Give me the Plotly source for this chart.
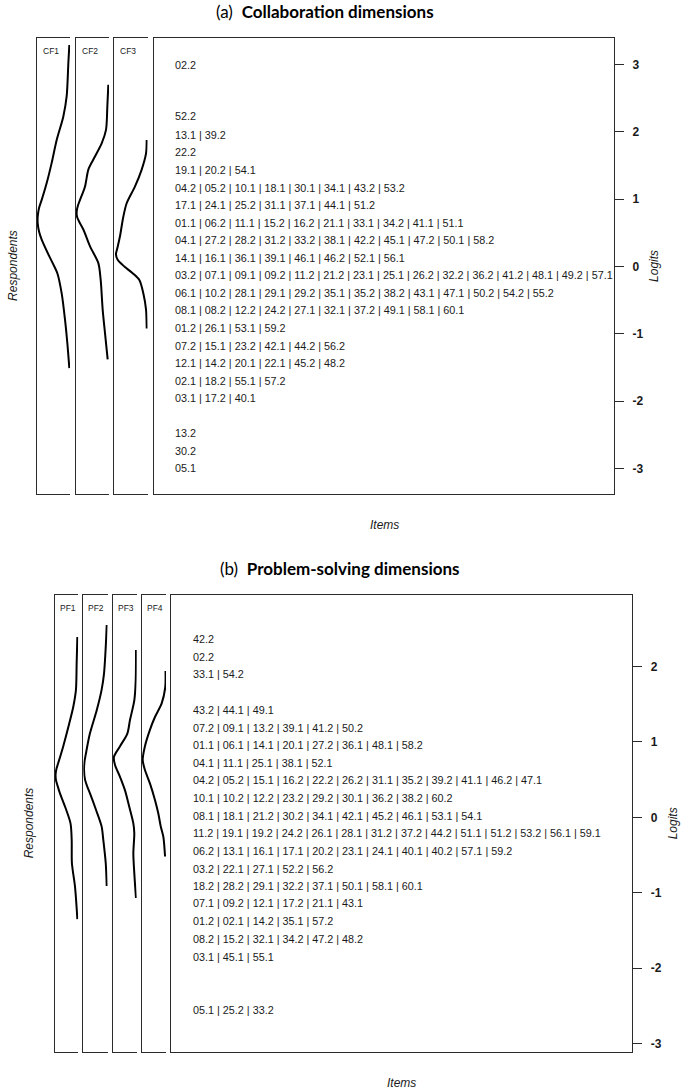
import plotly.graph_objects as go

W, H = 685, 1092

# ---------------- data: panel (a) Collaboration ----------------
a_row_logits = [3.0, 2.23, 1.96, 1.70, 1.44, 1.17, 0.91, 0.65, 0.39, 0.13,
                -0.13, -0.39, -0.65, -0.91, -1.18, -1.44, -1.70, -1.96,
                -2.48, -2.74, -3.0]
a_row_items = [
    ["02.2"],
    ["52.2"],
    ["13.1", "39.2"],
    ["22.2"],
    ["19.1", "20.2", "54.1"],
    ["04.2", "05.2", "10.1", "18.1", "30.1", "34.1", "43.2", "53.2"],
    ["17.1", "24.1", "25.2", "31.1", "37.1", "44.1", "51.2"],
    ["01.1", "06.2", "11.1", "15.2", "16.2", "21.1", "33.1", "34.2", "41.1", "51.1"],
    ["04.1", "27.2", "28.2", "31.2", "33.2", "38.1", "42.2", "45.1", "47.2", "50.1", "58.2"],
    ["14.1", "16.1", "36.1", "39.1", "46.1", "46.2", "52.1", "56.1"],
    ["03.2", "07.1", "09.1", "09.2", "11.2", "21.2", "23.1", "25.1", "26.2", "32.2",
     "36.2", "41.2", "48.1", "49.2", "57.1"],
    ["06.1", "10.2", "28.1", "29.1", "29.2", "35.1", "35.2", "38.2", "43.1", "47.1",
     "50.2", "54.2", "55.2"],
    ["08.1", "08.2", "12.2", "24.2", "27.1", "32.1", "37.2", "49.1", "58.1", "60.1"],
    ["01.2", "26.1", "53.1", "59.2"],
    ["07.2", "15.1", "23.2", "42.1", "44.2", "56.2"],
    ["12.1", "14.2", "20.1", "22.1", "45.2", "48.2"],
    ["02.1", "18.2", "55.1", "57.2"],
    ["03.1", "17.2", "40.1"],
    ["13.2"],
    ["30.2"],
    ["05.1"],
]
a_dims = ["CF1", "CF2", "CF3"]
cf1_logit = [3.29, 3.02, 2.53, 2.23, 1.88, 1.54, 1.24, 0.99, 0.87, 0.74, 0.64, 0.52,
             0.40, 0.15, 0.05, -0.10, -0.40, -0.79, -1.14, -1.51]
cf1_dens = [0.02, 0.05, 0.10, 0.20, 0.40, 0.55, 0.70, 0.85, 0.93, 0.97, 0.97, 0.93,
            0.85, 0.62, 0.52, 0.38, 0.25, 0.15, 0.08, 0.02]
cf2_logit = [2.70, 2.38, 2.03, 1.83, 1.59, 1.44, 1.19, 0.99, 0.91, 0.82, 0.74, 0.65,
             0.55, 0.30, 0.05, -0.20, -0.64, -0.99, -1.38]
cf2_dens = [0.02, 0.05, 0.09, 0.22, 0.47, 0.62, 0.72, 0.87, 0.93, 0.97, 0.96, 0.88,
            0.77, 0.57, 0.32, 0.25, 0.19, 0.12, 0.04]
cf3_logit = [1.88, 1.68, 1.44, 1.19, 0.94, 0.74, 0.45, 0.27, 0.18, 0.10, 0.0, -0.10,
             -0.20, -0.40, -0.64, -0.92]
cf3_dens = [0.03, 0.05, 0.18, 0.38, 0.63, 0.73, 0.83, 0.91, 0.95, 0.90, 0.70, 0.45,
            0.25, 0.13, 0.05, 0.03]
a_logit_ticks = [3, 2, 1, 0, -1, -2, -3]
a_logit_ticktext = ["3", "2", "1", "0", "-1", "-2", "-3"]

# ---------------- data: panel (b) Problem-solving ----------------
b_row_logits = [2.36, 2.13, 1.90, 1.42, 1.19, 0.96, 0.72, 0.49, 0.26, 0.02,
                -0.21, -0.45, -0.68, -0.91, -1.14, -1.38, -1.61, -1.85, -2.55]
b_row_items = [
    ["42.2"],
    ["02.2"],
    ["33.1", "54.2"],
    ["43.2", "44.1", "49.1"],
    ["07.2", "09.1", "13.2", "39.1", "41.2", "50.2"],
    ["01.1", "06.1", "14.1", "20.1", "27.2", "36.1", "48.1", "58.2"],
    ["04.1", "11.1", "25.1", "38.1", "52.1"],
    ["04.2", "05.2", "15.1", "16.2", "22.2", "26.2", "31.1", "35.2", "39.2", "41.1",
     "46.2", "47.1"],
    ["10.1", "10.2", "12.2", "23.2", "29.2", "30.1", "36.2", "38.2", "60.2"],
    ["08.1", "18.1", "21.2", "30.2", "34.1", "42.1", "45.2", "46.1", "53.1", "54.1"],
    ["11.2", "19.1", "19.2", "24.2", "26.1", "28.1", "31.2", "37.2", "44.2", "51.1",
     "51.2", "53.2", "56.1", "59.1"],
    ["06.2", "13.1", "16.1", "17.1", "20.2", "23.1", "24.1", "40.1", "40.2", "57.1",
     "59.2"],
    ["03.2", "22.1", "27.1", "52.2", "56.2"],
    ["18.2", "28.2", "29.1", "32.2", "37.1", "50.1", "58.1", "60.1"],
    ["07.1", "09.2", "12.1", "17.2", "21.1", "43.1"],
    ["01.2", "02.1", "14.2", "35.1", "57.2"],
    ["08.2", "15.2", "32.1", "34.2", "47.2", "48.2"],
    ["03.1", "45.1", "55.1"],
    ["05.1", "25.2", "33.2"],
]
b_dims = ["PF1", "PF2", "PF3", "PF4"]
pf1_logit = [2.39, 2.04, 1.69, 1.47, 1.20, 0.94, 0.72, 0.65, 0.58, 0.50, 0.42, 0.32,
             0.14, -0.08, -0.30, -0.61, -0.92, -1.35]
pf1_dens = [0.04, 0.07, 0.10, 0.21, 0.42, 0.64, 0.85, 0.92, 0.96, 0.95, 0.88, 0.78,
            0.56, 0.33, 0.28, 0.27, 0.14, 0.04]
pf2_logit = [2.55, 2.26, 1.91, 1.69, 1.42, 1.11, 0.85, 0.74, 0.63, 0.50, 0.41, 0.32,
             0.10, -0.12, -0.30, -0.61, -0.91]
pf2_dens = [0.04, 0.08, 0.15, 0.25, 0.45, 0.73, 0.89, 0.95, 0.97, 0.93, 0.84, 0.73,
            0.48, 0.25, 0.18, 0.08, 0.04]
pf3_logit = [2.22, 1.82, 1.55, 1.29, 1.11, 0.94, 0.80, 0.69, 0.54, 0.36, 0.14,
             -0.08, -0.21, -0.48, -0.74, -1.07]
pf3_dens = [0.03, 0.04, 0.10, 0.28, 0.39, 0.70, 0.95, 0.90, 0.70, 0.49, 0.31,
            0.14, 0.10, 0.14, 0.10, 0.03]
pf4_logit = [1.94, 1.73, 1.51, 1.33, 1.16, 0.94, 0.76, 0.63, 0.45, 0.23, 0.05,
             -0.12, -0.26, -0.52]
pf4_dens = [0.02, 0.03, 0.18, 0.46, 0.67, 0.88, 0.97, 0.88, 0.67, 0.46, 0.32,
            0.22, 0.11, 0.04]
b_logit_ticks = [2, 1, 0, -1, -2, -3]
b_logit_ticktext = ["2", "1", "0", "-1", "-2", "-3"]

a_curves = [(cf1_logit, cf1_dens), (cf2_logit, cf2_dens), (cf3_logit, cf3_dens)]
b_curves = [(pf1_logit, pf1_dens), (pf2_logit, pf2_dens), (pf3_logit, pf3_dens),
            (pf4_logit, pf4_dens)]

# ---------------- layout geometry (pixels) ----------------
def px(x):
    return x / W

def py(y):
    return 1 - y / H

LINE = "#2b2b2b"
TXT = "#1a1a1a"
FONT = "Liberation Sans, Arial, sans-serif"

panels = [
    dict(title_a="(a)", title_b="Collaboration dimensions", title_x=214, title_y=12,
         dims=a_dims, curves=a_curves,
         small=[(36.7, 70.0), (75.7, 109.0), (114.3, 147.7)],
         main=(154.0, 614.0), top=37.8, bottom=494.0, zero=266.5, ppl=67.3,
         rows=a_row_items, row_logits=a_row_logits, text_x=173.0,
         ticks=a_logit_ticks, ticktext=a_logit_ticktext,
         resp_x=13, logit_x=654, items_y=525),
    dict(title_a="(b)", title_b="Problem-solving dimensions", title_x=218, title_y=568,
         dims=b_dims, curves=b_curves,
         small=[(54.7, 78.3), (83.3, 107.7), (112.7, 136.7), (142.0, 166.0)],
         main=(171.0, 632.3), top=595.0, bottom=1051.7, zero=817.3, ppl=75.4,
         rows=b_row_items, row_logits=b_row_logits, text_x=191.0,
         ticks=b_logit_ticks, ticktext=b_logit_ticktext,
         resp_x=29, logit_x=673, items_y=1083),
]

fig = go.Figure()
layout = dict(width=W, height=H, margin=dict(l=0, r=0, t=0, b=0),
              paper_bgcolor="white", plot_bgcolor="white", showlegend=False)
annotations = []
ax_i = 0
for p in panels:
    y_top = (p["zero"] - p["top"]) / p["ppl"]
    y_bot = (p["zero"] - p["bottom"]) / p["ppl"]
    ydom = [py(p["bottom"]), py(p["top"])]
    # small density panels
    for (x0, x1), name, (lg, dn) in zip(p["small"], p["dims"], p["curves"]):
        ax_i += 1
        xa = "xaxis" if ax_i == 1 else f"xaxis{ax_i}"
        ya = "yaxis" if ax_i == 1 else f"yaxis{ax_i}"
        xr = "x" if ax_i == 1 else f"x{ax_i}"
        yr = "y" if ax_i == 1 else f"y{ax_i}"
        layout[xa] = dict(domain=[px(x0), px(x1)], range=[1.0, 0.0], anchor=yr,
                          showline=True, mirror=True, linecolor=LINE, linewidth=1.3,
                          showgrid=False, zeroline=False, showticklabels=False,
                          ticks="", fixedrange=True)
        layout[ya] = dict(domain=ydom, range=[y_bot, y_top], anchor=xr,
                          showline=True, mirror=False, linecolor=LINE, linewidth=1.3,
                          showgrid=False, zeroline=False, showticklabels=False,
                          ticks="", fixedrange=True)
        fig.add_trace(go.Scatter(x=dn, y=lg, xaxis=xr, yaxis=yr, mode="lines",
                                 line=dict(color="black", width=2, shape="spline",
                                           smoothing=0.8),
                                 hoverinfo="skip"))
        annotations.append(dict(text=name, xref=f"{xr} domain", yref="paper",
                                x=0.12, y=py(p["top"] + 6), xanchor="left",
                                yanchor="top", showarrow=False,
                                font=dict(family=FONT, size=8.5, color=TXT)))
    # main item panel
    ax_i += 1
    xa, ya = f"xaxis{ax_i}", f"yaxis{ax_i}"
    xr, yr = f"x{ax_i}", f"y{ax_i}"
    layout[xa] = dict(domain=[px(p["main"][0]), px(p["main"][1])], range=[0, 1],
                      anchor=yr, showline=True, mirror=True, linecolor=LINE,
                      linewidth=1.3, showgrid=False, zeroline=False,
                      showticklabels=False, ticks="", fixedrange=True)
    layout[ya] = dict(domain=ydom, range=[y_bot, y_top], anchor=xr, side="right",
                      showline=True, mirror=True, linecolor=LINE, linewidth=1.3,
                      showgrid=False, zeroline=False, ticks="outside", ticklen=9,
                      tickwidth=1.3, tickcolor=LINE, tickvals=p["ticks"],
                      ticktext=p["ticktext"], ticklabelstandoff=6,
                      tickfont=dict(family=FONT, size=12, color=TXT, weight="bold"),
                      fixedrange=True)
    labels = [" | ".join(r) for r in p["rows"]]
    fig.add_trace(go.Scatter(x=[0] * len(labels), y=p["row_logits"], xaxis=xr, yaxis=yr,
                             mode="markers", marker=dict(size=1, opacity=0),
                             hoverinfo="skip"))
    for lab, lv in zip(labels, p["row_logits"]):
        annotations.append(dict(text=lab, xref="paper", yref=yr, x=px(p["text_x"]),
                                y=lv, xanchor="left", yanchor="middle",
                                showarrow=False,
                                font=dict(family=FONT, size=10.8, color=TXT)))
    # titles and axis labels
    annotations.append(dict(
        text=f"{p['title_a']}  <b>{p['title_b']}</b>", xref="paper", yref="paper",
        x=px(p["title_x"]), y=py(p["title_y"]), xanchor="left", yanchor="middle",
        showarrow=False, font=dict(family="Lato, Carlito, sans-serif", size=17,
                                   color="black")))
    mid = (p["top"] + p["bottom"]) / 2
    annotations.append(dict(text="Respondents", xref="paper", yref="paper",
                            x=px(p["resp_x"]), y=py(mid), textangle=-90,
                            xanchor="center", yanchor="middle", showarrow=False,
                            font=dict(family=FONT, size=12, color=TXT, style="italic")))
    annotations.append(dict(text="Logits", xref="paper", yref="paper",
                            x=px(p["logit_x"]), y=py(mid), textangle=-90,
                            xanchor="center", yanchor="middle", showarrow=False,
                            font=dict(family=FONT, size=12, color=TXT, style="italic")))
    annotations.append(dict(text="Items", xref="paper", yref="paper",
                            x=px((p["main"][0] + p["main"][1]) / 2), y=py(p["items_y"]),
                            xanchor="center", yanchor="middle", showarrow=False,
                            font=dict(family=FONT, size=12, color=TXT, style="italic")))

layout["annotations"] = annotations
fig.update_layout(**layout)
fig.write_html("out.html",
               config={"displayModeBar": False},
               post_script="document.body.style.margin='0';"
                           "document.body.style.padding='0';"
                           "document.body.style.overflow='hidden';")
